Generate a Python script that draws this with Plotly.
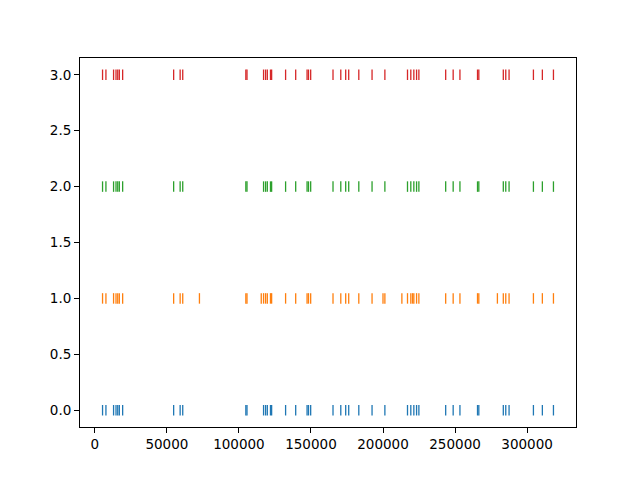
import plotly.graph_objects as go

base_positions = [5350, 7700, 13000, 14700, 15900, 17000, 19300, 54700, 59200, 61000,
                  104800, 105600, 117100, 118500, 119700, 121900, 122700, 132400, 139400,
                  147300, 148300, 149800, 165300, 170700, 174100, 176200, 183200, 192400,
                  201300, 217000, 219300, 221400, 223300, 224900, 243500, 248700, 253400,
                  265600, 266500, 283500, 285200, 287500, 304400, 310600, 318300]
orange_extra = [72600, 115500, 200000, 213100, 220500, 279400]

series_names = ["0", "1", "2", "3"]
series_y = [0, 1, 2, 3]
series_x = [
    base_positions,
    sorted(base_positions + orange_extra),
    base_positions,
    base_positions,
]
colors = ["#1f77b4", "#ff7f0e", "#2ca02c", "#d62728"]

fig = go.Figure()
for name, yv, xs, c in zip(series_names, series_y, series_x, colors):
    fig.add_trace(go.Scatter(
        x=xs, y=[yv] * len(xs), mode="markers", name=name,
        marker=dict(symbol="line-ns", size=7.5, color=c,
                    line=dict(color=c, width=1.3)),
        showlegend=False,
    ))

axis_common = dict(
    showline=True, mirror=True, linecolor="black", linewidth=1.1,
    ticks="outside", ticklen=4.9, tickwidth=1.1, tickcolor="black",
    showgrid=False, zeroline=False,
    tickfont=dict(family="DejaVu Sans", size=13.5, color="black"),
)

fig.update_layout(
    width=640, height=480,
    margin=dict(l=80, r=64, t=58, b=53),
    paper_bgcolor="white", plot_bgcolor="white",
    xaxis=dict(range=[-10300, 333950], tickvals=[0, 50000, 100000, 150000, 200000, 250000, 300000],
               ticktext=["0", "50000", "100000", "150000", "200000", "250000", "300000"], **axis_common),
    yaxis=dict(range=[-0.15, 3.15], tickvals=[0, 0.5, 1, 1.5, 2, 2.5, 3],
               ticktext=["0.0", "0.5", "1.0", "1.5", "2.0", "2.5", "3.0"], **axis_common),
)

fig.write_html("out.html")
